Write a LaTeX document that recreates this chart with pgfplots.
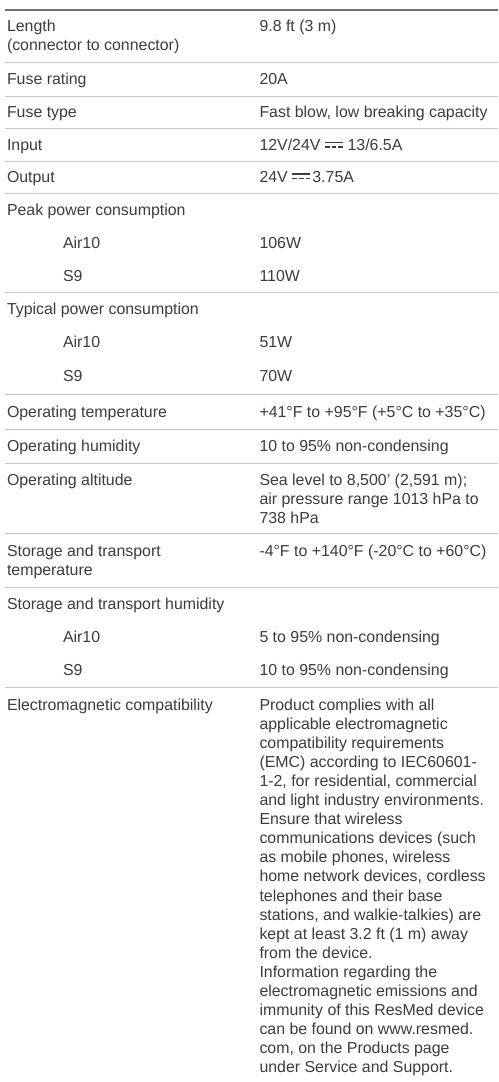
\documentclass[border=0pt]{standalone}
\usepackage{pgfplots}
\pgfplotsset{compat=1.18}
\usepackage{fontspec}
\setmainfont{Liberation Sans}
\definecolor{txtc}{HTML}{3C3C3C}
\definecolor{rulec}{HTML}{C8C8C8}
\definecolor{topc}{HTML}{707070}
\newcommand{\dc}{\rlap{\rule[0.45em]{1.15em}{0.1em}}\rule[0.18em]{0.3em}{0.1em}\hspace{0.125em}\rule[0.18em]{0.3em}{0.1em}\hspace{0.125em}\rule[0.18em]{0.3em}{0.1em}}
\tikzset{txt/.style={anchor=base west, inner sep=0pt, outer sep=0pt, text=txtc, font=\fontsize{15.9}{19.05}\selectfont}}
\begin{document}
\begin{tikzpicture}
\begin{axis}[scale only axis, width=498pt, height=1082pt,
  xmin=0, xmax=498, ymin=0, ymax=1082, y dir=reverse,
  hide axis, clip=false]
\path (rel axis cs:0,0) rectangle (rel axis cs:1,1);
% table rules
\addplot[topc, line width=1.6pt, no marks, forget plot] coordinates {(5,10) (498,10)};
\addplot[rulec, line width=1pt, no marks, forget plot] coordinates {(5,62.3) (498,62.3)};
\addplot[rulec, line width=1pt, no marks, forget plot] coordinates {(5,96) (498,96)};
\addplot[rulec, line width=1pt, no marks, forget plot] coordinates {(5,128.5) (498,128.5)};
\addplot[rulec, line width=1pt, no marks, forget plot] coordinates {(5,161) (498,161)};
\addplot[rulec, line width=1pt, no marks, forget plot] coordinates {(5,193) (498,193)};
\addplot[rulec, line width=1pt, no marks, forget plot] coordinates {(5,292) (498,292)};
\addplot[rulec, line width=1pt, no marks, forget plot] coordinates {(5,394) (498,394)};
\addplot[rulec, line width=1pt, no marks, forget plot] coordinates {(5,429) (498,429)};
\addplot[rulec, line width=1pt, no marks, forget plot] coordinates {(5,463) (498,463)};
\addplot[rulec, line width=1pt, no marks, forget plot] coordinates {(5,533) (498,533)};
\addplot[rulec, line width=1pt, no marks, forget plot] coordinates {(5,587) (498,587)};
\addplot[rulec, line width=1pt, no marks, forget plot] coordinates {(5,687) (498,687)};
% left column
\node[txt] at (axis cs:7,31.5) {Length};
\node[txt] at (axis cs:7,50.8) {(connector to connector)};
\node[txt] at (axis cs:7,84.5) {Fuse rating};
\node[txt] at (axis cs:7,117.5) {Fuse type};
\node[txt] at (axis cs:7,150.5) {Input};
\node[txt] at (axis cs:7,182) {Output};
\node[txt] at (axis cs:7,215) {Peak power consumption};
\node[txt] at (axis cs:63,248.5) {Air10};
\node[txt] at (axis cs:63,281.5) {S9};
\node[txt] at (axis cs:7,314) {Typical power consumption};
\node[txt] at (axis cs:63,347.5) {Air10};
\node[txt] at (axis cs:63,381) {S9};
\node[txt] at (axis cs:7,417) {Operating temperature};
\node[txt] at (axis cs:7,451) {Operating humidity};
\node[txt] at (axis cs:7,485) {Operating altitude};
\node[txt] at (axis cs:7,556) {Storage and transport};
\node[txt] at (axis cs:7,575.5) {temperature};
\node[txt] at (axis cs:7,609) {Storage and transport humidity};
\node[txt] at (axis cs:63,642) {Air10};
\node[txt] at (axis cs:63,675) {S9};
\node[txt] at (axis cs:7,710.5) {Electromagnetic compatibility};
% right column
\node[txt] at (axis cs:259.5,31.5) {9.8 ft (3 m)};
\node[txt] at (axis cs:259.5,84.5) {20A};
\node[txt] at (axis cs:259.5,117.5) {Fast blow, low breaking capacity};
\node[txt] at (axis cs:259.5,150.5) {12V/24V \dc{} 13/6.5A};
\node[txt] at (axis cs:259.5,182) {24V \dc{}\hspace{0.12em}3.75A};
\node[txt] at (axis cs:259.5,248.5) {106W};
\node[txt] at (axis cs:259.5,281.5) {110W};
\node[txt] at (axis cs:259.5,347.5) {51W};
\node[txt] at (axis cs:259.5,381) {70W};
\node[txt] at (axis cs:259.5,417) {+41°F to +95°F (+5°C to +35°C)};
\node[txt] at (axis cs:259.5,451) {10 to 95\% non-condensing};
\node[txt] at (axis cs:259.5,485) {Sea level to 8,500’ (2,591 m);};
\node[txt] at (axis cs:259.5,504) {air pressure range 1013 hPa to};
\node[txt] at (axis cs:259.5,523) {738 hPa};
\node[txt] at (axis cs:259.5,556) {-4°F to +140°F (-20°C to +60°C)};
\node[txt] at (axis cs:259.5,642) {5 to 95\% non-condensing};
\node[txt] at (axis cs:259.5,675) {10 to 95\% non-condensing};
\node[txt] at (axis cs:259.5,710.5) {Product complies with all};
\node[txt] at (axis cs:259.5,729.55) {applicable electromagnetic};
\node[txt] at (axis cs:259.5,748.6) {compatibility requirements};
\node[txt] at (axis cs:259.5,767.65) {(EMC) according to IEC60601-};
\node[txt] at (axis cs:259.5,786.7) {1-2, for residential, commercial};
\node[txt] at (axis cs:259.5,805.75) {and light industry environments.};
\node[txt] at (axis cs:259.5,824.8) {Ensure that wireless};
\node[txt] at (axis cs:259.5,843.85) {communications devices (such};
\node[txt] at (axis cs:259.5,862.9) {as mobile phones, wireless};
\node[txt] at (axis cs:259.5,881.95) {home network devices, cordless};
\node[txt] at (axis cs:259.5,901.0) {telephones and their base};
\node[txt] at (axis cs:259.5,920.05) {stations, and walkie-talkies) are};
\node[txt] at (axis cs:259.5,939.1) {kept at least 3.2 ft (1 m) away};
\node[txt] at (axis cs:259.5,958.15) {from the device.};
\node[txt] at (axis cs:259.5,977.2) {Information regarding the};
\node[txt] at (axis cs:259.5,996.25) {electromagnetic emissions and};
\node[txt] at (axis cs:259.5,1015.3) {immunity of this ResMed device};
\node[txt] at (axis cs:259.5,1034.35) {can be found on www.resmed.};
\node[txt] at (axis cs:259.5,1053.4) {com, on the Products page};
\node[txt] at (axis cs:259.5,1072.45) {under Service and Support.};
\end{axis}
\end{tikzpicture}
\end{document}
